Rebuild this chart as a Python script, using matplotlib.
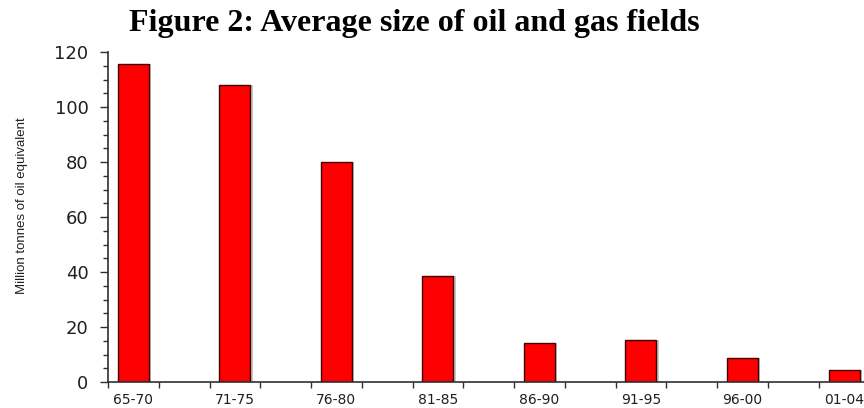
import matplotlib.pyplot as plt
import numpy as np

# periods and average field size (million tonnes of oil equivalent)
periods = ['65-70', '71-75', '76-80', '81-85', '86-90', '91-95', '96-00', '01-04']
avg_size = [115.5, 108, 80, 38.5, 14.1, 15.3, 8.8, 4.4]

fig = plt.figure(figsize=(8.64, 4.08), dpi=100)
# axes runs past the right edge, like the cropped original
ax = fig.add_axes([0.125, 0.0637, 0.94, 0.8088])

x = np.arange(len(periods))
pos = x - 0.25
w = 0.305

# light grey drop shadow, then the red bars
ax.bar(pos + 0.022, avg_size, width=w, color='#c8c8c8', zorder=1)
ax.bar(pos, avg_size, width=w, color='#ff0000', edgecolor='#400000',
       linewidth=1.0, zorder=2)

ax.set_xlim(-0.5, 7.5)
ax.set_ylim(0, 120)

ax.spines['top'].set_visible(False)
ax.spines['right'].set_visible(False)
for s in ('left', 'bottom'):
    ax.spines[s].set_color('#303030')
    ax.spines[s].set_linewidth(1.2)

ax.set_yticks(np.arange(0, 121, 20))
ax.set_yticks(np.arange(0, 121, 5), minor=True)
ax.tick_params(axis='y', which='major', length=6, width=1, color='#303030',
               pad=8, labelsize=13, labelcolor='#202020')
ax.tick_params(axis='y', which='minor', length=3.5, width=1, color='#303030')
for lab in ax.get_yticklabels():
    lab.set_fontfamily('DejaVu Sans')

# tick marks at category edges and centres, labels under the bars
ax.set_xticks(np.arange(-0.5, 7.6, 0.5))
ax.set_xticklabels([])
ax.set_xticks(pos, minor=True)
ax.set_xticklabels(periods, minor=True, fontfamily='DejaVu Sans', fontsize=10,
                   color='#202020')
ax.tick_params(axis='x', which='major', length=4, width=1, color='#303030')
ax.tick_params(axis='x', which='minor', length=0, pad=8)

fig.text(0.025, 0.497, 'Million tonnes of oil equivalent', rotation=90,
         ha='center', va='center', fontsize=9.5, color='#202020',
         fontfamily='Liberation Sans')

fig.text(0.479, 0.942, 'Figure 2: Average size of oil and gas fields',
         ha='center', va='center', fontfamily='Liberation Serif',
         fontweight='bold', fontsize=23)

fig.savefig('out.png', dpi=100)
